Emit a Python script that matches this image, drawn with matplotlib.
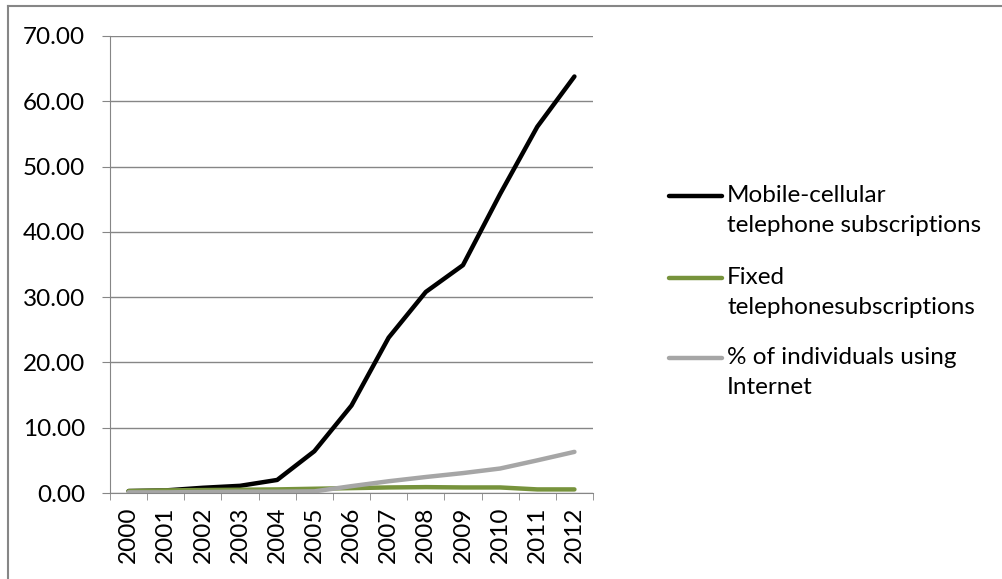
import numpy as np
import matplotlib
matplotlib.use("Agg")
import matplotlib.pyplot as plt
from matplotlib.lines import Line2D

years = ["2000", "2001", "2002", "2003", "2004", "2005", "2006",
         "2007", "2008", "2009", "2010", "2011", "2012"]
mobile = [0.3, 0.4, 0.8, 1.1, 2.0, 6.4, 13.4, 23.8, 30.8, 34.9, 45.8, 56.1, 63.8]
fixed = [0.3, 0.4, 0.45, 0.5, 0.55, 0.65, 0.75, 0.85, 0.9, 0.85, 0.85, 0.55, 0.55]
internet = [0.1, 0.1, 0.15, 0.2, 0.2, 0.25, 1.05, 1.8, 2.45, 3.05, 3.75, 5.0, 6.3]
labels = ["Mobile-cellular\ntelephone subscriptions",
          "Fixed\ntelephonesubscriptions",
          "% of individuals using\nInternet"]
colors = ["#000000", "#77933c", "#a6a6a6"]

plt.rcParams["font.family"] = ["Lato", "DejaVu Sans"]
FS = 17.5
W, H = 1002, 579
fig = plt.figure(figsize=(W / 100, H / 100), dpi=100)
ax = fig.add_axes([110 / W, 1 - 493 / H, (593 - 110) / W, (493 - 36) / H])

x = np.arange(len(years))
for vals, c in zip([mobile, fixed, internet], colors):
    ax.plot(x, vals, color=c, lw=3.2, solid_capstyle="round", solid_joinstyle="round")

ax.set_xlim(-0.5, len(years) - 0.5)
ax.set_ylim(0, 70)
ax.set_yticks(np.arange(0, 71, 10))
ax.set_yticklabels([f"{v:.2f}" for v in np.arange(0, 71, 10)], fontsize=FS)
ax.yaxis.grid(True, color="#868686", lw=1)
ax.set_axisbelow(True)
ax.set_xticks(x)
ax.set_xticklabels(years, rotation=90, fontsize=FS)
ax.set_xticks(np.arange(-0.5, len(years)), minor=True)
ax.tick_params(axis="x", which="major", length=0, pad=10)
ax.tick_params(axis="x", which="minor", length=5, color="#868686", direction="out")
ax.tick_params(axis="y", length=6, color="#868686", pad=12)
for s in ["top", "right"]:
    ax.spines[s].set_visible(False)
for s in ["left", "bottom"]:
    ax.spines[s].set_color("#868686")

# chart area border (top and left visible)
fig.add_artist(Line2D([8 / W, 1], [1 - 6 / H, 1 - 6 / H], color="#868686", lw=1.5))
fig.add_artist(Line2D([8 / W, 8 / W], [0, 1 - 6 / H], color="#868686", lw=1.5))

# legend
ys = [196, 278, 358]
for yy, lab, c in zip(ys, labels, colors):
    fig.add_artist(Line2D([669 / W, 722 / W], [1 - yy / H, 1 - yy / H], color=c, lw=3.2,
                          solid_capstyle="round"))
    fig.text(727 / W, 1 - (yy - 11) / H, lab, fontsize=FS, va="top", ha="left",
             linespacing=1.55)

fig.savefig("out.png", dpi=100)
